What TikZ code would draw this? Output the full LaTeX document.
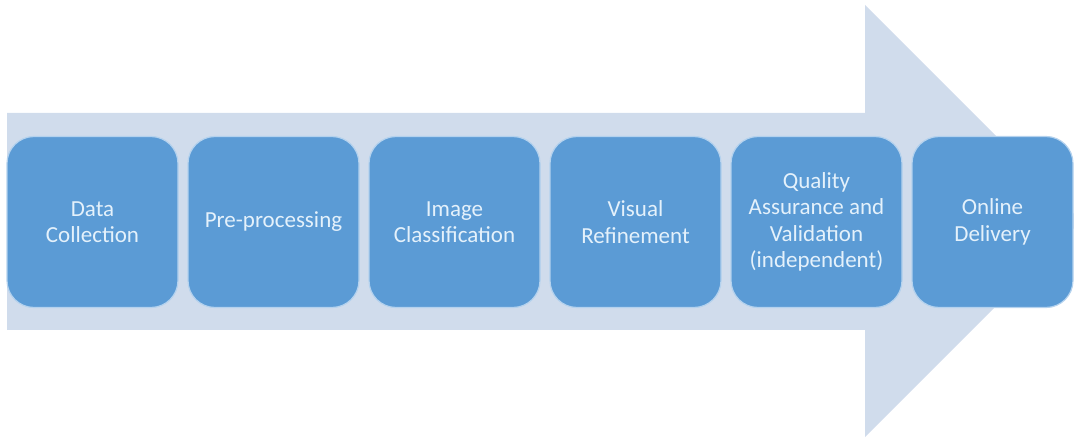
\documentclass[tikz,border=0pt]{standalone}
\usepackage{fontspec}
\setmainfont{Carlito}
\definecolor{arrowfill}{HTML}{D0DCEC}
\definecolor{boxfill}{HTML}{5B9BD5}
\definecolor{boxedge}{HTML}{B4D2EE}
\definecolor{boxtext}{HTML}{E4F1FB}
\begin{document}
\begin{tikzpicture}[x=1pt,y=-1pt,
  stage/.style={draw=boxedge, line width=1.2pt, fill=boxfill, rounded corners=27pt,
    minimum height=171pt, inner sep=0pt, align=center, text=boxtext,
    font=\fontsize{23}{26.5}\selectfont}]
  \useasboundingbox (0,0) rectangle (1074,438);
  \clip (0,0) rectangle (1074,438);
  % broad process arrow in the background
  \fill[arrowfill] (7,113) -- (865,113) -- (865,5) -- (1081,221) -- (865,437)
    -- (865,330) -- (7,330) -- cycle;
  % process stages
  \node[stage, minimum width=171pt] (b1) at (92.5,222) {Data\\Collection};
  \node[stage, minimum width=171pt] (b2) at (273.5,222) {Pre-processing};
  \node[stage, minimum width=171pt] (b3) at (454.5,222) {Image\\Classification};
  \node[stage, minimum width=171pt] (b4) at (635.5,222) {Visual\\Refinement};
  \node[stage, minimum width=171pt] (b5) at (816.5,222) {Quality\\Assurance and\\Validation\\(independent)};
  \node[stage, minimum width=161pt] (b6) at (992.5,222) {Online\\Delivery};
\end{tikzpicture}
\end{document}
